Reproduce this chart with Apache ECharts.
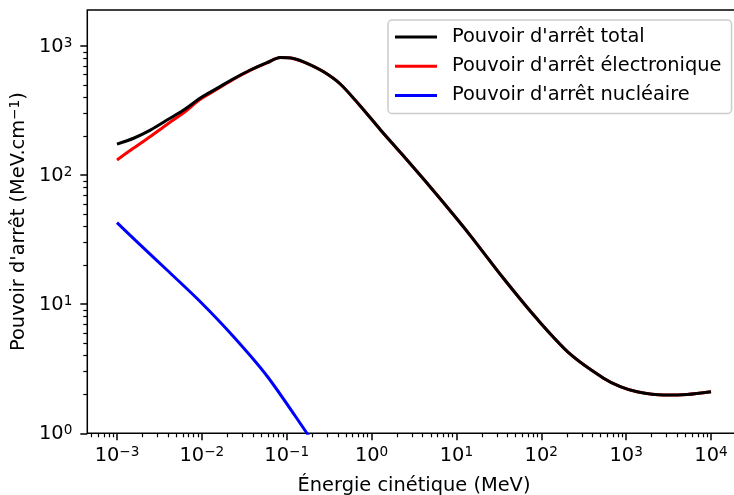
<!DOCTYPE html>
<html><head><meta charset="utf-8">
<script src="https://cdn.jsdelivr.net/npm/echarts@6/dist/echarts.min.js"></script>
<style>html,body{margin:0;padding:0;background:#fff}#c{width:734px;height:495px}</style>
</head><body><div id="c"></div>
<script>
// Kinetic energy (MeV) and stopping power (MeV/cm)
const energyTotal = [0.001, 0.00157, 0.00247, 0.00388, 0.0061, 0.00959, 0.01507, 0.02366, 0.03715, 0.0586, 0.0841, 0.1205, 0.1734, 0.2723, 0.4276, 0.736, 1.268, 2.183, 4.92, 10.33, 15.24, 35.97, 88.9, 219.8, 542, 853, 1343, 2761, 5212, 10000];
const stoppingTotal = [174, 193, 223, 267, 319, 396, 470, 558, 652, 743, 815, 800, 735, 632, 508, 343, 225, 150, 80.9, 45.1, 32.8, 15.8, 7.7, 4.1, 2.67, 2.30, 2.10, 1.98, 2.00, 2.10];
const energyElec = [0.001, 0.00157, 0.00247, 0.00388, 0.0061, 0.00959, 0.01507, 0.02366, 0.03715, 0.0586, 0.0841, 0.1205, 0.1734, 0.2723, 0.4276, 0.736, 1.268, 2.183, 4.92, 10.33, 15.24, 35.97, 88.9, 219.8, 542, 853, 1343, 2761, 5212, 10000];
const stoppingElec = [131, 162, 199, 247, 304, 386, 462, 553, 648, 740, 813, 798, 734, 631, 508, 343, 225, 150, 80.9, 45.1, 32.8, 15.8, 7.7, 4.1, 2.67, 2.30, 2.10, 1.98, 2.00, 2.10];
const energyNucl = [0.001, 0.00164, 0.00388, 0.00959, 0.02366, 0.0586, 0.1734, 0.249];
const stoppingNucl = [42.8, 31.4, 18.4, 10.45, 5.60, 2.78, 1.0, 0.70];

const seriesNames = ["Pouvoir d'arrêt total", "Pouvoir d'arrêt électronique", "Pouvoir d'arrêt nucléaire"];
const seriesColors = ['#000000', '#ff0000', '#0000ff'];
const xTickExponents = [-3, -2, -1, 0, 1, 2, 3, 4];
const yTickExponents = [0, 1, 2, 3];
const xRange = [-3.35, 4.35];   // log10 of axis limits
const yRange = [0, 3.279];

function minorTicks(range) {
  const out = [];
  for (let d = Math.floor(range[0]) - 1; d <= Math.ceil(range[1]); d++) {
    for (let k = 2; k <= 9; k++) {
      const v = d + Math.log10(k);
      if (v > range[0] && v < range[1]) out.push(v);
    }
  }
  return out;
}
function toLog(E, S) { return E.map((e, i) => [Math.log10(e), Math.log10(S[i])]); }
function sup(v) { return v < 0 ? '\u2212' + (-v) : String(v); }

const FONT = 'DejaVu Sans';
const FS = 19.4;
const labelRich = {
  b: { fontFamily: FONT, fontSize: FS, lineHeight: 20, color: '#000', verticalAlign: 'bottom' },
  s: { fontFamily: FONT, fontSize: 13.6, lineHeight: 14, color: '#000', verticalAlign: 'top' }
};
const tickLine = { color: '#000', width: 1.5 };

const chart = echarts.init(document.getElementById('c'), null, { renderer: 'canvas' });
chart.setOption({
  animation: false,
  backgroundColor: '#fff',
  grid: { left: 87.3, top: 10, right: -6.7, bottom: 61.7, show: true, borderColor: '#000', borderWidth: 1.5, backgroundColor: 'transparent', containLabel: false, outerBoundsMode: 'none' },
  xAxis: [
    {
      type: 'value', min: xRange[0], max: xRange[1], position: 'bottom',
      axisLine: { show: false, onZero: false }, splitLine: { show: false },
      axisTick: { show: true, customValues: xTickExponents, length: 7, lineStyle: tickLine },
      axisLabel: { customValues: xTickExponents, margin: 12, formatter: v => '{b|10}{s|' + sup(Math.round(v)) + '}', rich: labelRich },
      name: 'Énergie cinétique (MeV)', nameLocation: 'middle', nameGap: 43,
      nameTextStyle: { fontFamily: FONT, fontSize: FS, color: '#000', lineHeight: 20 }
    },
    {
      type: 'value', min: xRange[0], max: xRange[1], position: 'bottom',
      axisLine: { show: false, onZero: false }, splitLine: { show: false },
      axisTick: { show: true, customValues: minorTicks(xRange), length: 4, lineStyle: { color: '#000', width: 1.2 } },
      axisLabel: { show: false }
    }
  ],
  yAxis: [
    {
      type: 'value', min: yRange[0], max: yRange[1], position: 'left',
      axisLine: { show: false, onZero: false }, splitLine: { show: false },
      axisTick: { show: true, customValues: yTickExponents, length: 7, lineStyle: tickLine },
      axisLabel: { customValues: yTickExponents, margin: 15, formatter: v => '{b|10}{s|' + sup(Math.round(v)) + '}', rich: labelRich },
      name: "{a|Pouvoir d'arrêt (MeV.cm}{s|\u22121}{a|)}", nameLocation: 'middle', nameGap: 54, nameRotate: 90,
      nameTextStyle: { rich: {
        a: { fontFamily: FONT, fontSize: FS, color: '#000', lineHeight: 20, verticalAlign: 'bottom' },
        s: { fontFamily: FONT, fontSize: 13.6, color: '#000', lineHeight: 14, verticalAlign: 'top' }
      } }
    },
    {
      type: 'value', min: yRange[0], max: yRange[1], position: 'left',
      axisLine: { show: false, onZero: false }, splitLine: { show: false },
      axisTick: { show: true, customValues: minorTicks(yRange), length: 4, lineStyle: { color: '#000', width: 1.2 } },
      axisLabel: { show: false }
    }
  ],
  legend: {
    data: seriesNames.map((n, i) => ({ name: n, icon: 'rect', itemStyle: { color: seriesColors[i] } })),
    orient: 'vertical', left: 388, top: 20, padding: [7, 10, 8, 7],
    itemWidth: 42, itemHeight: 3, itemGap: 9.2,
    backgroundColor: '#fff', borderColor: '#cccccc', borderWidth: 1.5, borderRadius: 4,
    textStyle: { fontFamily: FONT, fontSize: FS, color: '#000', lineHeight: 20, padding: [0, 0, 0, 10] }
  },
  series: [
    { name: seriesNames[1], type: 'line', data: toLog(energyElec, stoppingElec), showSymbol: false, symbol: 'none', smooth: 0.3, lineStyle: { color: seriesColors[1], width: 3 }, itemStyle: { color: seriesColors[1] } },
    { name: seriesNames[2], type: 'line', data: toLog(energyNucl, stoppingNucl), showSymbol: false, symbol: 'none', smooth: 0.3, lineStyle: { color: seriesColors[2], width: 3 }, itemStyle: { color: seriesColors[2] } },
    { name: seriesNames[0], type: 'line', data: toLog(energyTotal, stoppingTotal), showSymbol: false, symbol: 'none', smooth: 0.3, lineStyle: { color: seriesColors[0], width: 3 }, itemStyle: { color: seriesColors[0] } }
  ]
});
</script></body></html>
